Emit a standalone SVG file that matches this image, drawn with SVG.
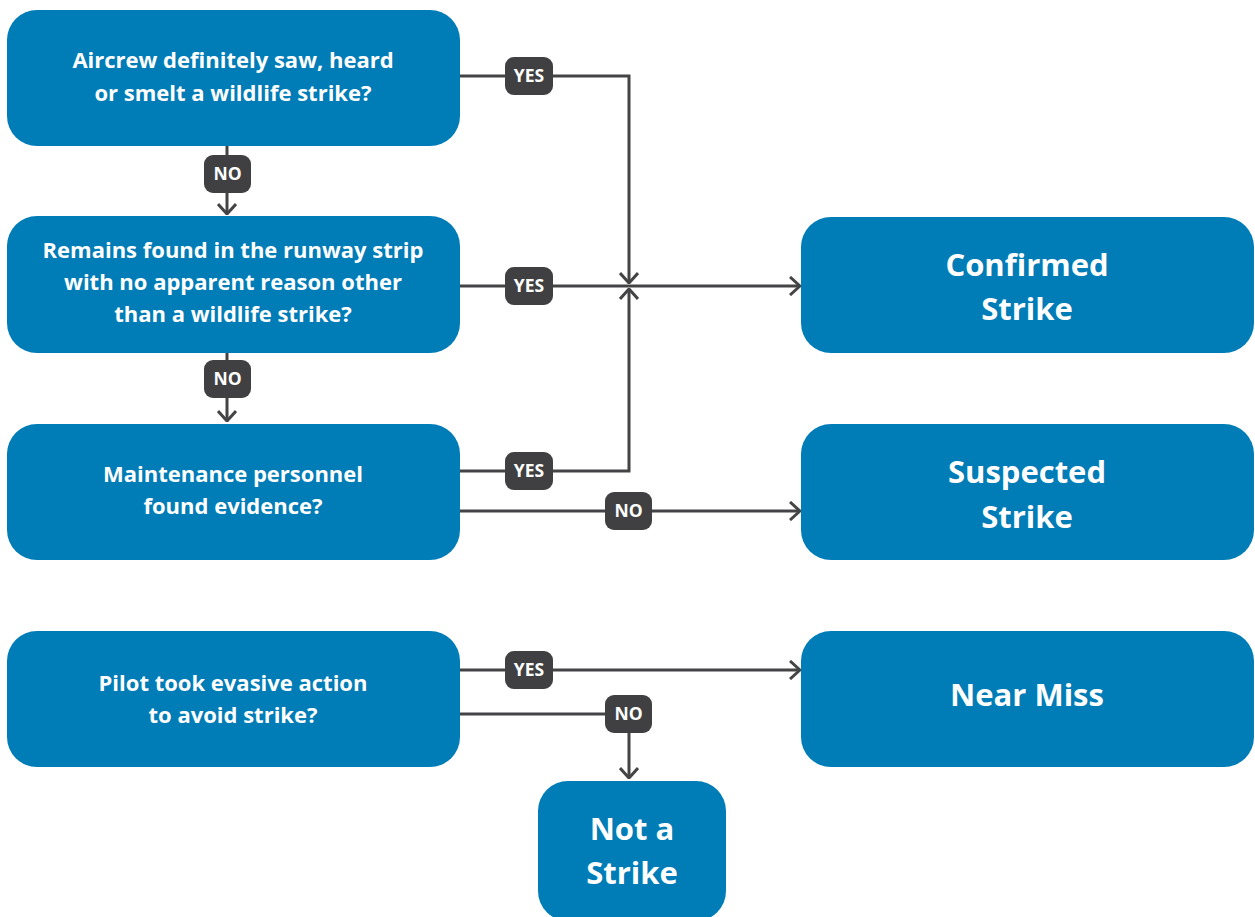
<svg xmlns="http://www.w3.org/2000/svg" width="1255" height="917" viewBox="0 0 1255 917">
<defs>
<style>
.box{fill:#007cb7}
.q{font-family:"Open Sans","Liberation Sans",sans-serif;font-weight:bold;font-size:22px;fill:#fff;text-anchor:middle}
.r{font-family:"Open Sans","Liberation Sans",sans-serif;font-weight:bold;font-size:31px;fill:#fff;text-anchor:middle}
.ln{fill:none;stroke:#444446;stroke-width:3}
.lb{fill:#404042}
.lt{font-family:"Open Sans","Liberation Sans",sans-serif;font-weight:bold;font-size:17.5px;fill:#fff;text-anchor:middle}
</style>
<marker id="ah" viewBox="0 0 12 20" refX="11" refY="10" markerWidth="12" markerHeight="20" markerUnits="userSpaceOnUse" orient="auto">
<path d="M1 1 L11 10 L1 19" fill="none" stroke="#444446" stroke-width="3"/>
</marker>
</defs>
<rect width="1255" height="917" fill="#fff"/>
<g id="connectors">
<path class="ln" d="M460 76 H629 V283" marker-end="url(#ah)"/>
<path class="ln" d="M460 286 H800" marker-end="url(#ah)"/>
<path class="ln" d="M460 471 H629 V289" marker-end="url(#ah)"/>
<path class="ln" d="M460 511 H800" marker-end="url(#ah)"/>
<path class="ln" d="M227 146 V214" marker-end="url(#ah)"/>
<path class="ln" d="M227 353 V421" marker-end="url(#ah)"/>
<path class="ln" d="M460 670 H800" marker-end="url(#ah)"/>
<path class="ln" d="M460 714 H629 V778" marker-end="url(#ah)"/>
<g><rect class="lb" x="505" y="57" width="48" height="38" rx="9"/><text class="lt" x="529" y="82">YES</text></g>
<g><rect class="lb" x="505" y="267" width="48" height="38" rx="9"/><text class="lt" x="529" y="292">YES</text></g>
<g><rect class="lb" x="505" y="452" width="48" height="38" rx="9"/><text class="lt" x="529" y="477">YES</text></g>
<g><rect class="lb" x="505" y="651" width="48" height="38" rx="9"/><text class="lt" x="529" y="676">YES</text></g>
<g><rect class="lb" x="204" y="155" width="47" height="38" rx="9"/><text class="lt" x="227.5" y="180">NO</text></g>
<g><rect class="lb" x="204" y="360" width="47" height="38" rx="9"/><text class="lt" x="227.5" y="385">NO</text></g>
<g><rect class="lb" x="605" y="492" width="47" height="38" rx="9"/><text class="lt" x="628.5" y="517">NO</text></g>
<g><rect class="lb" x="605" y="695" width="47" height="38" rx="9"/><text class="lt" x="628.5" y="720">NO</text></g>
</g>
<g id="q1"><rect class="box" x="7" y="10" width="453" height="136" rx="30"/><text class="q" x="233" y="68">Aircrew definitely saw, heard</text><text class="q" x="233" y="101">or smelt a wildlife strike?</text></g>
<g id="q2"><rect class="box" x="7" y="216" width="453" height="137" rx="30"/><text class="q" x="233" y="258">Remains found in the runway strip</text><text class="q" x="233" y="290">with no apparent reason other</text><text class="q" x="233" y="322">than a wildlife strike?</text></g>
<g id="q3"><rect class="box" x="7" y="424" width="453" height="136" rx="30"/><text class="q" x="233" y="482">Maintenance personnel</text><text class="q" x="233" y="514">found evidence?</text></g>
<g id="q4"><rect class="box" x="7" y="631" width="453" height="136" rx="30"/><text class="q" x="233" y="691">Pilot took evasive action</text><text class="q" x="233" y="723">to avoid strike?</text></g>
<g id="confirmed"><rect class="box" x="801" y="217" width="453" height="136" rx="30"/><text class="r" x="1027" y="276">Confirmed</text><text class="r" x="1027" y="320">Strike</text></g>
<g id="suspected"><rect class="box" x="801" y="424" width="453" height="136" rx="30"/><text class="r" x="1027" y="483">Suspected</text><text class="r" x="1027" y="528">Strike</text></g>
<g id="nearmiss"><rect class="box" x="801" y="631" width="453" height="136" rx="30"/><text class="r" x="1027" y="706">Near Miss</text></g>
<g id="notstrike"><rect class="box" x="538" y="781" width="188" height="140" rx="30"/><text class="r" x="632" y="840">Not a</text><text class="r" x="632" y="884">Strike</text></g>
</svg>
